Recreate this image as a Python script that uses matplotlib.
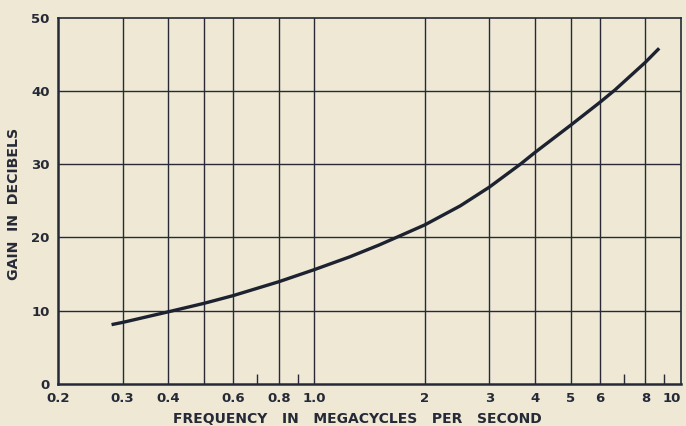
import matplotlib
matplotlib.use("Agg")
import matplotlib.pyplot as plt
from matplotlib.ticker import FixedLocator, FixedFormatter, NullFormatter

# Data
freq_mc = [0.28, 0.3, 0.4, 0.5, 0.6, 0.8, 1.0, 1.25, 1.5, 1.675,
           2.0, 2.5, 3.0, 3.65, 4.0, 5.0, 6.0, 6.6, 8.0, 8.72]
gain_db = [8.1, 8.4, 9.85, 11.0, 12.05, 13.95, 15.6, 17.35, 18.95, 20.0,
           21.7, 24.3, 26.85, 30.0, 31.6, 35.3, 38.4, 40.1, 43.9, 45.8]

grid_x = [0.3, 0.4, 0.5, 0.6, 0.8, 1.0, 2, 3, 4, 5, 6, 8]
tick_x = [0.2, 0.3, 0.4, 0.5, 0.6, 0.8, 1.0, 2, 3, 4, 5, 6, 8, 10]
tick_x_labels = ["0.2", "0.3", "0.4", "", "0.6", "0.8", "1.0", "2", "3", "4", "5", "6", "8", "10"]
minor_x = [0.7, 0.9, 7, 9]
tick_y = [0, 10, 20, 30, 40, 50]

bg = "#efe8d5"
ink = "#252a36"

fig = plt.figure(figsize=(6.86, 4.26), dpi=100, facecolor=bg)
ax = fig.add_axes([0.0845, 0.0986, 0.9082, 0.8603])
ax.set_facecolor(bg)

ax.set_xscale("log")
ax.set_xlim(0.2, 10)
ax.set_ylim(0, 50)

for gx in grid_x:
    ax.axvline(gx, color=ink, lw=1.0, zorder=1)
for gy in tick_y[1:-1]:
    ax.axhline(gy, color=ink, lw=1.0, zorder=1)

ax.plot(freq_mc, gain_db, color="#1c2230", lw=2.4, solid_capstyle="butt",
        solid_joinstyle="round", zorder=3)

ax.xaxis.set_major_locator(FixedLocator(tick_x))
ax.xaxis.set_major_formatter(FixedFormatter(tick_x_labels))
ax.xaxis.set_minor_locator(FixedLocator(minor_x))
ax.xaxis.set_minor_formatter(NullFormatter())
ax.set_yticks(tick_y)
ax.set_yticklabels([str(v) for v in tick_y])

ax.tick_params(axis="x", which="major", length=0, pad=6, labelsize=9.5, labelcolor=ink)
ax.tick_params(axis="x", which="minor", direction="in", length=7, width=1.0, color=ink)
ax.tick_params(axis="y", which="both", length=0, pad=6, labelsize=9.5, labelcolor=ink)
for lbl in ax.get_xticklabels() + ax.get_yticklabels():
    lbl.set_fontweight("semibold")
xl = ax.get_xticklabels()
xl[-1].set_horizontalalignment("right")

for s in ax.spines.values():
    s.set_color(ink)
    s.set_linewidth(1.2)
ax.spines["left"].set_linewidth(1.8)
ax.spines["bottom"].set_linewidth(1.8)

ax.set_xlabel("FREQUENCY   IN   MEGACYCLES   PER   SECOND", fontsize=10, color=ink,
              fontweight="semibold")
ax.xaxis.set_label_coords(0.48, -0.076)
ax.set_ylabel("GAIN  IN  DECIBELS", fontsize=10.2, color=ink, fontweight="semibold")
ax.yaxis.set_label_coords(-0.06, 0.49)

fig.savefig("out.png", dpi=100, facecolor=bg)
